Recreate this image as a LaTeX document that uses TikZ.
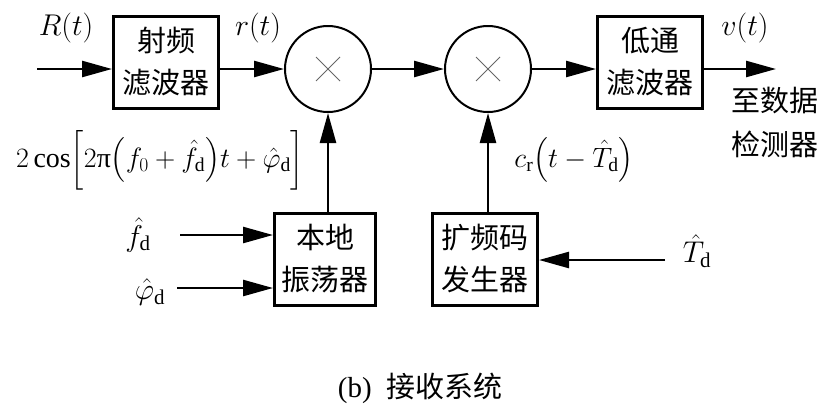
\documentclass[tikz,border=0pt]{standalone}
\usepackage{fix-cm}
\usepackage{amsmath}
\usepackage{fontspec}
\setmainfont{Liberation Serif}
\newfontfamily\cjk{Noto Sans CJK SC}
\usetikzlibrary{arrows.meta,positioning}

\tikzset{
  blk/.style={draw,line width=3pt,minimum width=105pt,minimum height=92pt,
    inner sep=0pt,align=center,font=\fontsize{29}{42}\selectfont\cjk},
  mix/.style={draw,circle,line width=2pt,minimum size=86pt,inner sep=0pt},
  sig/.style={line width=2.5pt,-{Triangle[length=30pt,width=16pt]}},
  lbl/.style={inner sep=0pt,font=\fontsize{30}{42}\selectfont},
}

\begin{document}
\begin{tikzpicture}[x=1pt,y=-1pt,font=\fontsize{29}{42}\selectfont]
  \useasboundingbox (0,0) rectangle (840,418);

  % blocks
  \node[blk] (rf)  at (166,62)  {射频\\滤波器};
  \node[blk] (lpf) at (650,62)  {低通\\滤波器};
  \node[blk,minimum width=101pt] (lo) at (325,259) {本地\\振荡器};
  \node[blk] (pn)  at (485,259) {扩频码\\发生器};

  % multipliers
  \node[mix] (mixa) at (328,69) {};
  \node[mix] (mixb) at (488,69) {};
  \foreach \m in {mixa,mixb}
    \draw[line width=1pt,gray!80!black] (\m.center) ++(-12,-12) -- ++(24,24)
      (\m.center) ++(-12,12) -- ++(24,-24);

  % labels
  \node[lbl] (Rt) at (66,28)  {$R(t)$};
  \node[lbl] (rt) at (258,28) {$r(t)$};
  \node[lbl] (vt) at (745,28) {$v(t)$};
  \node[lbl,font=\fontsize{29}{44}\selectfont\cjk,align=center] (dst) at (775,122) {至数据\\检测器};
  \node[lbl,font=\fontsize{28}{42}\selectfont] (osc) at (160,160)
    {$2\cos\Bigl[2\text{π}\bigl(f_0+\hat{f}_\mathrm{d}\bigr)t+\hat{\varphi}_\mathrm{d}\Bigr]$};
  \node[lbl,font=\fontsize{28}{42}\selectfont] (code) at (574,160) {$c_\mathrm{r}\bigl(t-\hat{T}_\mathrm{d}\bigr)$};
  \node[lbl] (fd)  at (138,235) {$\hat{f}_\mathrm{d}$};
  \node[lbl] (phd) at (150,292) {$\hat{\varphi}_\mathrm{d}$};
  \node[lbl] (Td)  at (697,251) {$\hat{T}_\mathrm{d}$};
  \node[lbl,font=\fontsize{29}{42}\selectfont] (cap) at (420,388) {(b)\ \ {\cjk 接收系统}};

  % free ends
  \coordinate (in)  at (37,69);
  \coordinate (out) at (776,69);
  \coordinate (fdx) at (180,235);
  \coordinate (phx) at (177,288);
  \coordinate (Tdx) at (665,260);

  % connectors
  \draw[sig] (in) -- (rf.west |- in);
  \draw[sig] (rf.east |- mixa) -- (mixa.west);
  \draw[sig] (mixa.east) -- (mixb.west);
  \draw[sig] (mixb.east) -- (lpf.west |- mixb);
  \draw[sig] (lpf.east |- mixb) -- (out);
  \draw[sig] (lo.north -| mixa) -- (mixa.south);
  \draw[sig] (pn.north -| mixb) -- (mixb.south);
  \draw[sig] (fdx) -- (lo.west |- fdx);
  \draw[sig] (phx) -- (lo.west |- phx);
  \draw[sig] (Tdx) -- (pn.east |- Tdx);
\end{tikzpicture}
\end{document}
